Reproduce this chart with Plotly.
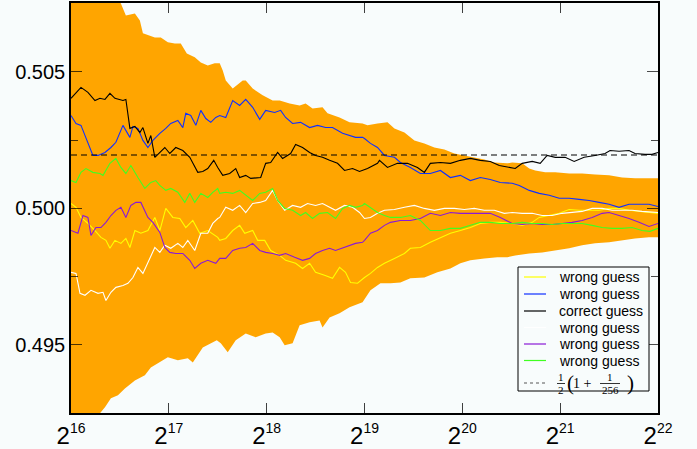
import plotly.graph_objects as go

# ---------------- data (x as log2 of sample count) ----------------
band_upper_log2n = [16.000, 16.296, 16.510, 16.561, 16.653, 16.704, 16.735, 16.857, 16.918, 16.990,
                    17.061, 17.122, 17.184, 17.265, 17.327, 17.398, 17.469, 17.520, 17.551, 17.582,
                    17.653, 17.755, 17.786, 17.857, 17.959, 18.061, 18.133, 18.235, 18.337, 18.398,
                    18.469, 18.571, 18.622, 18.745, 18.847, 18.980, 19.031, 19.133, 19.235, 19.306,
                    19.408, 19.510, 19.612, 19.714, 19.816, 19.918, 20.020, 20.122, 20.224, 20.327,
                    20.459, 20.510, 20.612, 20.684, 20.745, 20.847, 20.949, 21.092, 21.224, 21.357,
                    21.500, 21.633, 21.765, 21.908, 22.000]
band_upper = [0.50900, 0.50850, 0.50750, 0.50706, 0.50714, 0.50688, 0.50641, 0.50626, 0.50626, 0.50608,
              0.50604, 0.50604, 0.50567, 0.50553, 0.50534, 0.50523, 0.50531, 0.50531, 0.50505, 0.50468,
              0.50439, 0.50468, 0.50468, 0.50439, 0.50414, 0.50395, 0.50395, 0.50384, 0.50377, 0.50384,
              0.50366, 0.50370, 0.50348, 0.50333, 0.50315, 0.50311, 0.50304, 0.50311, 0.50315, 0.50293,
              0.50278, 0.50249, 0.50238, 0.50223, 0.50216, 0.50201, 0.50194, 0.50187, 0.50179, 0.50168,
              0.50165, 0.50168, 0.50165, 0.50146, 0.50139, 0.50132, 0.50132, 0.50128, 0.50128, 0.50124,
              0.50121, 0.50113, 0.50110, 0.50110, 0.50110]

band_lower_log2n = [16.000, 16.245, 16.296, 16.347, 16.408, 16.480, 16.551, 16.653, 16.755, 16.816,
                    16.888, 16.990, 17.092, 17.194, 17.245, 17.347, 17.490, 17.531, 17.602, 17.684,
                    17.786, 17.888, 17.990, 18.061, 18.133, 18.184, 18.265, 18.337, 18.439, 18.541,
                    18.571, 18.643, 18.745, 18.847, 18.980, 19.000, 19.061, 19.163, 19.265, 19.367,
                    19.469, 19.612, 19.745, 19.878, 19.980, 20.082, 20.224, 20.357, 20.459, 20.541,
                    20.684, 20.816, 20.949, 21.092, 21.224, 21.357, 21.500, 21.633, 21.765, 21.908,
                    22.000]
band_lower = [0.49100, 0.49220, 0.49250, 0.49272, 0.49305, 0.49316, 0.49341, 0.49370, 0.49389, 0.49418,
              0.49433, 0.49455, 0.49444, 0.49451, 0.49436, 0.49491, 0.49517, 0.49506, 0.49473, 0.49517,
              0.49542, 0.49528, 0.49542, 0.49546, 0.49528, 0.49499, 0.49506, 0.49572, 0.49583, 0.49590,
              0.49564, 0.49601, 0.49616, 0.49638, 0.49656, 0.49663, 0.49700, 0.49726, 0.49726, 0.49729,
              0.49744, 0.49747, 0.49766, 0.49780, 0.49799, 0.49810, 0.49817, 0.49821, 0.49821, 0.49828,
              0.49835, 0.49839, 0.49846, 0.49854, 0.49865, 0.49872, 0.49876, 0.49883, 0.49890, 0.49894,
              0.49894]

yellow_log2n = [16.000, 16.051, 16.102, 16.173, 16.245, 16.306, 16.357, 16.398, 16.449, 16.510,
                16.561, 16.602, 16.653, 16.714, 16.786, 16.857, 16.908, 16.969, 17.041, 17.112,
                17.173, 17.245, 17.316, 17.398, 17.500, 17.520, 17.582, 17.653, 17.724, 17.776,
                17.857, 17.908, 17.980, 18.041, 18.133, 18.194, 18.296, 18.367, 18.439, 18.500,
                18.592, 18.673, 18.745, 18.806, 18.857, 18.929, 19.000, 19.061, 19.133, 19.204,
                19.306, 19.408, 19.469, 19.571, 19.673, 19.776, 19.878, 19.980, 20.082, 20.184,
                20.286, 20.388, 20.510, 20.612, 20.714, 20.786, 20.888, 20.990, 21.092, 21.194,
                21.296, 21.398, 21.500, 21.602, 21.704, 21.806, 21.908, 22.000]
yellow = [0.50018, 0.50004, 0.49967, 0.49945, 0.49919, 0.49894, 0.49883, 0.49854, 0.49883, 0.49872,
          0.49890, 0.49857, 0.49919, 0.49909, 0.49919, 0.49967, 0.49919, 0.50000, 0.49967, 0.49963,
          0.49930, 0.49956, 0.49909, 0.49919, 0.49894, 0.49883, 0.49890, 0.49919, 0.49938, 0.49909,
          0.49919, 0.49883, 0.49883, 0.49846, 0.49828, 0.49810, 0.49799, 0.49780, 0.49799, 0.49766,
          0.49755, 0.49744, 0.49784, 0.49766, 0.49729, 0.49726, 0.49747, 0.49762, 0.49784, 0.49799,
          0.49817, 0.49835, 0.49854, 0.49857, 0.49876, 0.49894, 0.49909, 0.49919, 0.49930, 0.49945,
          0.49949, 0.49949, 0.49945, 0.49938, 0.49949, 0.49967, 0.49974, 0.49982, 0.49996, 0.49993,
          0.49993, 0.49993, 0.50000, 0.50000, 0.49993, 0.49989, 0.49985, 0.49982]

blue_log2n = [16.000, 16.051, 16.102, 16.153, 16.224, 16.276, 16.347, 16.408, 16.459, 16.531,
              16.602, 16.633, 16.684, 16.735, 16.786, 16.837, 16.908, 16.969, 17.020, 17.092,
              17.143, 17.173, 17.224, 17.276, 17.327, 17.378, 17.429, 17.480, 17.520, 17.582,
              17.653, 17.724, 17.786, 17.857, 17.929, 17.990, 18.082, 18.143, 18.194, 18.265,
              18.347, 18.439, 18.520, 18.602, 18.673, 18.776, 18.847, 18.908, 18.980, 19.000,
              19.061, 19.133, 19.204, 19.306, 19.367, 19.469, 19.571, 19.673, 19.776, 19.878,
              19.980, 20.082, 20.184, 20.286, 20.388, 20.510, 20.582, 20.684, 20.786, 20.888,
              20.990, 21.092, 21.194, 21.296, 21.398, 21.500, 21.602, 21.704, 21.806, 21.908,
              22.000]
blue = [0.50340, 0.50311, 0.50304, 0.50260, 0.50194, 0.50194, 0.50205, 0.50223, 0.50242, 0.50304,
        0.50260, 0.50300, 0.50293, 0.50249, 0.50223, 0.50249, 0.50275, 0.50293, 0.50311, 0.50322,
        0.50296, 0.50348, 0.50340, 0.50304, 0.50359, 0.50329, 0.50315, 0.50333, 0.50340, 0.50333,
        0.50395, 0.50377, 0.50399, 0.50370, 0.50326, 0.50359, 0.50351, 0.50359, 0.50333, 0.50311,
        0.50315, 0.50296, 0.50304, 0.50296, 0.50296, 0.50275, 0.50267, 0.50260, 0.50260, 0.50256,
        0.50238, 0.50223, 0.50194, 0.50187, 0.50168, 0.50150, 0.50128, 0.50128, 0.50139, 0.50113,
        0.50121, 0.50102, 0.50113, 0.50106, 0.50095, 0.50092, 0.50084, 0.50066, 0.50055, 0.50048,
        0.50037, 0.50037, 0.50033, 0.50029, 0.50022, 0.50015, 0.50004, 0.50015, 0.50015, 0.50015,
        0.50007]

correct_log2n = [16.000, 16.102, 16.173, 16.245, 16.296, 16.347, 16.398, 16.449, 16.531, 16.561,
                 16.602, 16.653, 16.704, 16.735, 16.786, 16.816, 16.857, 16.908, 16.959, 17.010,
                 17.071, 17.143, 17.214, 17.296, 17.347, 17.398, 17.459, 17.500, 17.551, 17.622,
                 17.684, 17.724, 17.786, 17.837, 17.939, 17.990, 18.041, 18.112, 18.163, 18.245,
                 18.296, 18.367, 18.439, 18.500, 18.571, 18.643, 18.724, 18.796, 18.878, 18.949,
                 19.031, 19.133, 19.153, 19.235, 19.337, 19.439, 19.541, 19.612, 19.673, 19.776,
                 19.878, 19.980, 20.082, 20.184, 20.286, 20.378, 20.510, 20.541, 20.612, 20.714,
                 20.796, 20.867, 20.949, 21.051, 21.143, 21.245, 21.357, 21.459, 21.510, 21.602,
                 21.704, 21.765, 21.867, 21.939, 22.000]
correct = [0.50403, 0.50443, 0.50425, 0.50395, 0.50403, 0.50399, 0.50421, 0.50403, 0.50395, 0.50399,
           0.50293, 0.50300, 0.50278, 0.50296, 0.50238, 0.50267, 0.50187, 0.50205, 0.50223, 0.50201,
           0.50223, 0.50212, 0.50187, 0.50132, 0.50135, 0.50146, 0.50176, 0.50150, 0.50121, 0.50128,
           0.50146, 0.50113, 0.50121, 0.50110, 0.50113, 0.50165, 0.50168, 0.50205, 0.50183, 0.50201,
           0.50234, 0.50223, 0.50205, 0.50194, 0.50187, 0.50176, 0.50165, 0.50139, 0.50146, 0.50135,
           0.50146, 0.50165, 0.50176, 0.50150, 0.50165, 0.50165, 0.50150, 0.50132, 0.50165, 0.50168,
           0.50165, 0.50176, 0.50183, 0.50176, 0.50172, 0.50157, 0.50150, 0.50146, 0.50165, 0.50172,
           0.50165, 0.50194, 0.50187, 0.50187, 0.50172, 0.50187, 0.50194, 0.50201, 0.50212, 0.50209,
           0.50212, 0.50201, 0.50198, 0.50198, 0.50205]

white_log2n = [16.000, 16.051, 16.092, 16.143, 16.204, 16.276, 16.327, 16.357, 16.408, 16.459,
               16.531, 16.582, 16.633, 16.684, 16.735, 16.786, 16.857, 16.908, 16.959, 17.020,
               17.092, 17.143, 17.194, 17.265, 17.327, 17.398, 17.449, 17.500, 17.520, 17.582,
               17.653, 17.724, 17.786, 17.857, 17.929, 17.990, 18.061, 18.112, 18.184, 18.265,
               18.347, 18.418, 18.500, 18.571, 18.643, 18.704, 18.796, 18.878, 18.949, 19.000,
               19.061, 19.133, 19.204, 19.306, 19.408, 19.510, 19.612, 19.714, 19.816, 19.918,
               20.020, 20.122, 20.224, 20.327, 20.429, 20.510, 20.612, 20.714, 20.816, 20.918,
               21.020, 21.122, 21.224, 21.327, 21.429, 21.531, 21.633, 21.735, 21.837, 21.939,
               22.000]
white = [0.49766, 0.49762, 0.49689, 0.49682, 0.49700, 0.49689, 0.49693, 0.49663, 0.49693, 0.49711,
         0.49718, 0.49726, 0.49747, 0.49784, 0.49762, 0.49802, 0.49857, 0.49839, 0.49865, 0.49854,
         0.49872, 0.49857, 0.49883, 0.49846, 0.49909, 0.49909, 0.49945, 0.49963, 0.49967, 0.50004,
         0.49993, 0.50011, 0.49985, 0.50018, 0.50022, 0.50029, 0.50066, 0.50029, 0.49993, 0.50011,
         0.50004, 0.50018, 0.50011, 0.50018, 0.50004, 0.49993, 0.50011, 0.50004, 0.49985, 0.49963,
         0.49967, 0.49982, 0.49993, 0.49996, 0.50004, 0.50011, 0.50000, 0.49993, 0.50000, 0.50000,
         0.49996, 0.50000, 0.49993, 0.49993, 0.49982, 0.49985, 0.49982, 0.49982, 0.49974, 0.49974,
         0.49982, 0.49985, 0.49989, 0.50000, 0.50000, 0.49993, 0.49993, 0.49993, 0.49989, 0.49985,
         0.49985]

purple_log2n = [16.000, 16.071, 16.122, 16.173, 16.204, 16.255, 16.306, 16.357, 16.408, 16.459,
                16.510, 16.561, 16.612, 16.663, 16.714, 16.786, 16.837, 16.908, 16.959, 17.010,
                17.071, 17.143, 17.214, 17.265, 17.327, 17.398, 17.480, 17.520, 17.582, 17.653,
                17.724, 17.786, 17.857, 17.929, 17.990, 18.061, 18.133, 18.194, 18.286, 18.367,
                18.439, 18.500, 18.571, 18.643, 18.704, 18.796, 18.857, 18.908, 18.980, 19.000,
                19.061, 19.133, 19.204, 19.265, 19.367, 19.469, 19.571, 19.673, 19.776, 19.878,
                19.980, 20.082, 20.184, 20.286, 20.388, 20.510, 20.612, 20.714, 20.816, 20.918,
                21.020, 21.122, 21.224, 21.327, 21.429, 21.500, 21.602, 21.704, 21.806, 21.908,
                22.000]
purple = [0.49919, 0.49909, 0.49974, 0.49967, 0.49901, 0.49930, 0.49930, 0.49949, 0.49974, 0.49993,
          0.50004, 0.49967, 0.50011, 0.50022, 0.50022, 0.49967, 0.49949, 0.49912, 0.49857, 0.49839,
          0.49835, 0.49835, 0.49810, 0.49780, 0.49799, 0.49810, 0.49799, 0.49817, 0.49817, 0.49846,
          0.49854, 0.49857, 0.49872, 0.49846, 0.49839, 0.49835, 0.49828, 0.49835, 0.49821, 0.49810,
          0.49817, 0.49835, 0.49846, 0.49854, 0.49846, 0.49857, 0.49865, 0.49872, 0.49876, 0.49883,
          0.49909, 0.49919, 0.49938, 0.49949, 0.49956, 0.49956, 0.49963, 0.49982, 0.49974, 0.49985,
          0.49982, 0.49982, 0.49982, 0.49982, 0.49967, 0.49945, 0.49941, 0.49945, 0.49941, 0.49941,
          0.49945, 0.49949, 0.49956, 0.49967, 0.49982, 0.49985, 0.49974, 0.49963, 0.49949, 0.49934,
          0.49945]

green_log2n = [16.000, 16.051, 16.102, 16.153, 16.224, 16.296, 16.327, 16.398, 16.459, 16.510,
               16.561, 16.612, 16.684, 16.755, 16.816, 16.867, 16.908, 16.969, 17.020, 17.092,
               17.163, 17.214, 17.265, 17.327, 17.398, 17.449, 17.500, 17.520, 17.582, 17.653,
               17.724, 17.786, 17.857, 17.929, 17.990, 18.061, 18.112, 18.184, 18.265, 18.347,
               18.398, 18.469, 18.541, 18.622, 18.704, 18.776, 18.847, 18.908, 18.980, 19.000,
               19.061, 19.133, 19.204, 19.265, 19.367, 19.469, 19.571, 19.673, 19.776, 19.878,
               19.980, 20.082, 20.184, 20.286, 20.388, 20.510, 20.612, 20.714, 20.816, 20.918,
               21.020, 21.122, 21.224, 21.327, 21.429, 21.531, 21.633, 21.735, 21.837, 21.918,
               22.000]
green = [0.50102, 0.50095, 0.50132, 0.50146, 0.50132, 0.50128, 0.50121, 0.50165, 0.50183, 0.50150,
         0.50128, 0.50157, 0.50113, 0.50073, 0.50095, 0.50102, 0.50084, 0.50066, 0.50073, 0.50059,
         0.50022, 0.50055, 0.50022, 0.50055, 0.50040, 0.50059, 0.50073, 0.50055, 0.50059, 0.50055,
         0.50066, 0.50048, 0.50029, 0.50055, 0.50059, 0.50073, 0.50029, 0.50000, 0.49993, 0.49974,
         0.49985, 0.49963, 0.49982, 0.49985, 0.49963, 0.50000, 0.50011, 0.50004, 0.50011, 0.50018,
         0.50004, 0.49985, 0.49974, 0.49967, 0.49967, 0.49974, 0.49956, 0.49919, 0.49919, 0.49927,
         0.49927, 0.49938, 0.49949, 0.49949, 0.49945, 0.49945, 0.49949, 0.49945, 0.49945, 0.49941,
         0.49945, 0.49945, 0.49945, 0.49938, 0.49930, 0.49927, 0.49927, 0.49930, 0.49919, 0.49916,
         0.49927]

reference_level = 0.5 * (1 + 1 / 256)
x_tick_exponents = [16, 17, 18, 19, 20, 21, 22]
y_tick_values = [0.495, 0.500, 0.505]
y_tick_labels = ["0.495", "0.500", "0.505"]
legend_labels = ["wrong guess", "wrong guess", "correct guess", "wrong guess",
                 "wrong guess", "wrong guess"]

# ---------------- figure ----------------
def n_of(exps):
    return [2 ** e for e in exps]

W, H = 697, 449
L, R, T, B = 71, 658, 3, 413          # plot-area pixel box
BG = "#f8fcfc"
FONT = "Liberation Sans, Arial, Helvetica, sans-serif"
SERIF = "Liberation Serif, Times New Roman, serif"

def px(x):   # pixel -> paper x
    return (x - L) / (R - L)

def py(y):   # pixel -> paper y
    return (B - y) / (B - T)

fig = go.Figure()

# orange envelope of wrong guesses
fig.add_trace(go.Scatter(
    x=n_of(band_upper_log2n) + n_of(band_lower_log2n)[::-1],
    y=band_upper + band_lower[::-1],
    fill="toself", fillcolor="#ffa500", mode="lines",
    line=dict(width=0, color="#ffa500"), hoverinfo="skip", showlegend=False))

colors = ["#ffff00", "#1030ff", "#000000", "#ffffff", "#8a1ad6", "#40ff20"]
series = [(yellow_log2n, yellow), (blue_log2n, blue), (correct_log2n, correct),
          (white_log2n, white), (purple_log2n, purple), (green_log2n, green)]
for (xs, ys), col, name in zip(series, colors, legend_labels):
    fig.add_trace(go.Scatter(x=n_of(xs), y=ys, mode="lines", name=name,
                             line=dict(color=col, width=1.1), showlegend=False))

fig.add_trace(go.Scatter(
    x=n_of([x_tick_exponents[0], x_tick_exponents[-1]]),
    y=[reference_level, reference_level], mode="lines", showlegend=False,
    line=dict(color="#000000", width=1.1, dash="6px,4px")))

# ---------------- hand-built legend (grace style) ----------------
shapes = []
annotations = []
shapes.append(dict(type="rect", xref="paper", yref="paper",
                   x0=px(518), x1=px(649), y0=py(391), y1=py(267),
                   line=dict(color="#000000", width=1), fillcolor=BG, layer="above"))
row_y = [277, 294, 311, 327.5, 344, 360.5]
for yy, col, lab in zip(row_y, colors, legend_labels):
    shapes.append(dict(type="line", xref="paper", yref="paper",
                       x0=px(524), x1=px(546), y0=py(yy), y1=py(yy),
                       line=dict(color=col, width=1.2), layer="above"))
    annotations.append(dict(xref="paper", yref="paper", x=px(557), y=py(yy),
                            xanchor="left", yanchor="middle", showarrow=False,
                            text=lab, font=dict(size=14, family=FONT, color="#000000")))
# dashed sample + 1/2(1 + 1/256)
ry = 383
shapes.append(dict(type="line", xref="paper", yref="paper",
                   x0=px(524), x1=px(546), y0=py(ry), y1=py(ry),
                   line=dict(color="#555555", width=1.2, dash="3px,3px"), layer="above"))
frac_parts = [  # (x, y, text, size)
    (561, ry - 6.5, "1", 11), (561, ry + 7, "2", 11),
    (570, ry, "(", 21), (582, ry, "1 +", 14),
    (610, ry - 6.5, "1", 11), (610, ry + 7, "256", 11),
    (630, ry, ")", 21),
]
for x0, y0, t, s in frac_parts:
    annotations.append(dict(xref="paper", yref="paper", x=px(x0), y=py(y0),
                            xanchor="center", yanchor="middle", showarrow=False,
                            text=t, font=dict(size=s, family=SERIF, color="#000000")))
for xa, xb in [(557, 565), (600, 620)]:
    shapes.append(dict(type="line", xref="paper", yref="paper",
                       x0=px(xa), x1=px(xb), y0=py(ry + 0.5), y1=py(ry + 0.5),
                       line=dict(color="#000000", width=0.8), layer="above"))

fig.update_layout(
    width=W, height=H,
    margin=dict(l=L, r=W - R, t=T, b=H - B, autoexpand=False),
    paper_bgcolor=BG, plot_bgcolor=BG,
    font=dict(family=FONT, color="#000000"),
    showlegend=False,
    shapes=shapes, annotations=annotations,
)

fig.update_xaxes(
    type="log", automargin=False,
    range=[16 * 0.30103, 22 * 0.30103],
    tickvals=[2 ** k for k in x_tick_exponents],
    ticktext=["2<sup><span style='font-size:14px'>%d</span></sup>" % k
              for k in x_tick_exponents],
    ticks="inside", ticklen=10, tickwidth=1, tickcolor="rgba(0,0,0,0.75)",
    showline=True, linecolor="#000000", linewidth=1.5, mirror="allticks",
    showgrid=False, zeroline=False,
    tickfont=dict(size=24, family=FONT),
)
fig.update_yaxes(
    automargin=False,
    range=[0.49251, 0.50752],
    tickvals=y_tick_values, ticktext=y_tick_labels,
    ticks="inside", ticklen=11, tickwidth=1.2, tickcolor="rgba(0,0,0,0.7)",
    minor=dict(tickvals=[0.4975, 0.5025], ticks="inside", ticklen=7,
               tickwidth=1, tickcolor="rgba(0,0,0,0.7)"),
    showline=True, linecolor="#000000", linewidth=1.5, mirror="allticks",
    showgrid=False, zeroline=False,
    tickfont=dict(size=20, family=FONT),
)

fig.write_html("out.html",
               config={"displayModeBar": False},
               post_script="document.body.style.margin='0px';"
                           "document.body.style.background='%s';" % BG)
